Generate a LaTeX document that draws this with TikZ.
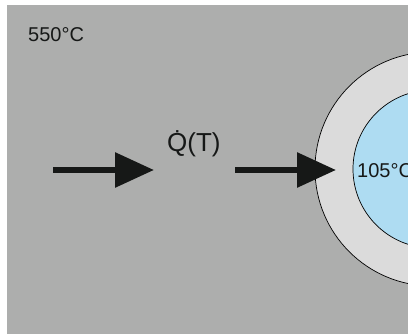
\documentclass[tikz,border=0pt]{standalone}
\usepackage{fontspec}
\setmainfont{Liberation Sans}
\usetikzlibrary{arrows.meta}
\definecolor{bg}{RGB}{173,174,173}
\definecolor{ring}{RGB}{219,219,219}
\definecolor{core}{RGB}{174,220,242}
\definecolor{ink}{RGB}{22,24,23}
\tikzset{
  lbl/.style={inner sep=0pt, anchor=base west, text=ink},
  heat/.style={line width=6pt, draw=ink, -{Triangle[length=39pt,width=34pt]}},
}
\begin{document}
\begin{tikzpicture}[x=1pt,y=-1pt]
\useasboundingbox (0,0) rectangle (408,334);
\clip (0,0) rectangle (408,334);
\fill[white] (0,0) rectangle (408,334);
\fill[bg] (7,5) rectangle (410,336);
\draw[fill=ring, line width=0.7pt] (432,169) circle[radius=117];
\draw[fill=core, line width=0.7pt] (432,169) circle[radius=79];
\node[lbl] (hot) at (28,42) {\fontsize{20}{24}\selectfont 550°C};
\node[lbl] (q) at (167,152) {\fontsize{26}{30}\selectfont \.{Q}(T)};
\node[lbl] (cold) at (357,178) {\fontsize{20}{24}\selectfont 105°C};
\coordinate (a1s) at (53,170);
\coordinate (a1e) at (154,170);
\coordinate (a2s) at (235,170);
\coordinate (a2e) at (336,170);
\draw[heat] (a1s) -- (a1e);
\draw[heat] (a2s) -- (a2e);
\end{tikzpicture}
\end{document}
